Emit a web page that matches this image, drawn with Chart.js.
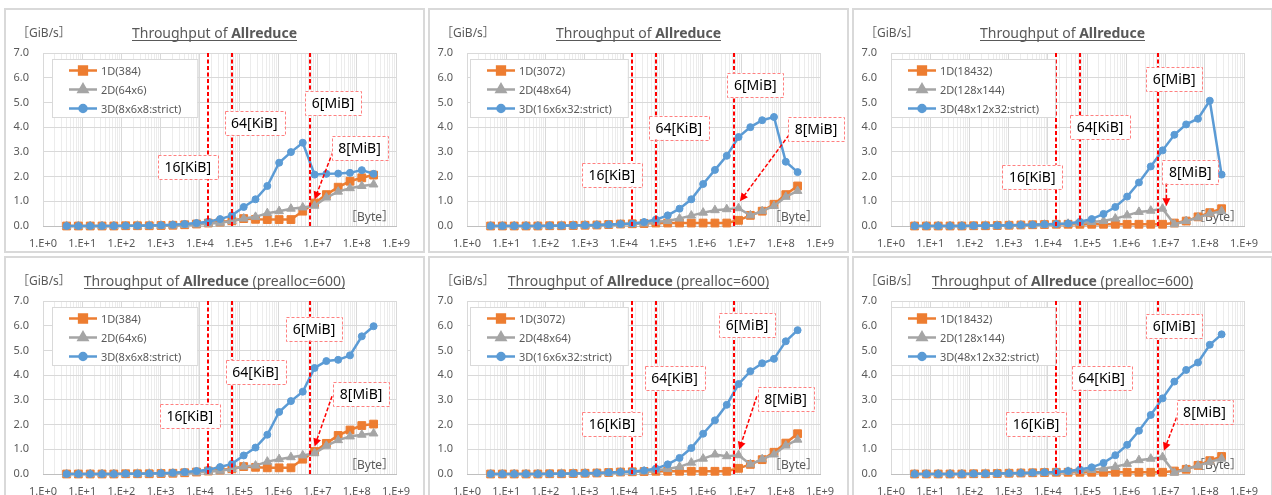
<!DOCTYPE html>
<html>
<head>
<meta charset="utf-8">
<script src="https://cdn.jsdelivr.net/npm/chart.js@4.4.1/dist/chart.umd.min.js"></script>
<style>
  body { margin: 0; background: #fff; width: 1272px; height: 495px; overflow: hidden; position: relative; }
  .panel { position: absolute; width: 417px; height: 241px; border: 2px solid #d9d9d9; background: #fff; }
  .panel canvas { display: block; }
</style>
</head>
<body>
<div class="panel" style="left:4px;top:8px"><canvas id="c0" width="417" height="241"></canvas></div>
<div class="panel" style="left:428px;top:8px"><canvas id="c1" width="417" height="241"></canvas></div>
<div class="panel" style="left:852px;top:8px"><canvas id="c2" width="417" height="241"></canvas></div>
<div class="panel" style="left:4px;top:256px"><canvas id="c3" width="417" height="241"></canvas></div>
<div class="panel" style="left:428px;top:256px"><canvas id="c4" width="417" height="241"></canvas></div>
<div class="panel" style="left:852px;top:256px"><canvas id="c5" width="417" height="241"></canvas></div>
<script>
// message sizes in bytes (2^2 .. 2^28)
const sizes = [4, 8, 16, 32, 64, 128, 256, 512, 1024, 2048, 4096, 8192, 16384, 32768, 65536,
  131072, 262144, 524288, 1048576, 2097152, 4194304, 8388608, 16777216, 33554432,
  67108864, 134217728, 268435456];
const xTickLabels = ['1.E+0', '1.E+1', '1.E+2', '1.E+3', '1.E+4', '1.E+5', '1.E+6', '1.E+7', '1.E+8', '1.E+9'];
const marks = [16384, 65536, 6291456];
const markLabels = ['16[KiB]', '64[KiB]', '6[MiB]'];
const arrowLabel = '8[MiB]';

const names384 = ['1D(384)', '2D(64x6)', '3D(8x6x8:strict)'];
const names3072 = ['1D(3072)', '2D(48x64)', '3D(16x6x32:strict)'];
const names18432 = ['1D(18432)', '2D(128x144)', '3D(48x12x32:strict)'];

// throughput GiB/s
const a384_1d = [0, 0, 0, 0, 0, 0.01, 0.01, 0.01, 0.02, 0.03, 0.05, 0.08, 0.12, 0.16, 0.21, 0.3, 0.27, 0.26, 0.26, 0.26, 0.6, 0.93, 1.27, 1.57, 1.81, 1.95, 2.06];
const a384_2d = [0, 0, 0, 0, 0, 0, 0.01, 0.01, 0.01, 0.02, 0.04, 0.06, 0.09, 0.13, 0.2, 0.3, 0.37, 0.52, 0.6, 0.7, 0.75, 0.82, 1.15, 1.39, 1.53, 1.62, 1.68];
const a384_3d = [0, 0, 0, 0, 0, 0.01, 0.01, 0.02, 0.03, 0.05, 0.08, 0.12, 0.17, 0.28, 0.43, 0.77, 1.08, 1.62, 2.56, 2.99, 3.37, 2.08, 2.11, 2.12, 2.15, 2.26, 2.11];

const a3072_1d = [0, 0, 0, 0, 0, 0.01, 0.01, 0.02, 0.03, 0.04, 0.06, 0.08, 0.09, 0.1, 0.12, 0.12, 0.12, 0.12, 0.12, 0.12, 0.12, 0.23, 0.43, 0.6, 0.88, 1.27, 1.62];
const a3072_2d = [0, 0, 0, 0, 0, 0, 0.01, 0.01, 0.02, 0.03, 0.04, 0.06, 0.08, 0.1, 0.17, 0.2, 0.3, 0.42, 0.54, 0.64, 0.68, 0.72, 0.43, 0.6, 0.81, 1.18, 1.42];
const a3072_3d = [0, 0, 0, 0, 0, 0.01, 0.01, 0.02, 0.03, 0.04, 0.06, 0.08, 0.1, 0.16, 0.26, 0.43, 0.7, 1.08, 1.7, 2.27, 2.84, 3.6, 4.0, 4.28, 4.41, 2.6, 2.18];

const a18432_1d = [0, 0, 0, 0, 0, 0.01, 0.01, 0.02, 0.03, 0.04, 0.05, 0.06, 0.07, 0.07, 0.07, 0.07, 0.07, 0.07, 0.07, 0.07, 0.07, 0.07, 0.12, 0.2, 0.37, 0.54, 0.7];
const a18432_2d = [0, 0, 0, 0, 0, 0, 0.01, 0.01, 0.02, 0.03, 0.04, 0.05, 0.07, 0.09, 0.12, 0.16, 0.2, 0.3, 0.43, 0.57, 0.62, 0.7, 0.07, 0.2, 0.34, 0.5, 0.6];
const a18432_3d = [0, 0, 0, 0, 0, 0.01, 0.01, 0.02, 0.03, 0.04, 0.05, 0.07, 0.08, 0.1, 0.17, 0.28, 0.49, 0.77, 1.19, 1.76, 2.41, 3.06, 3.69, 4.11, 4.34, 5.07, 2.08];

// prealloc=600
const b384_1d = [0, 0, 0, 0, 0, 0.01, 0.01, 0.01, 0.02, 0.03, 0.05, 0.08, 0.12, 0.16, 0.21, 0.3, 0.27, 0.25, 0.25, 0.25, 0.6, 0.91, 1.24, 1.56, 1.78, 1.96, 2.02];
const b384_2d = [0, 0, 0, 0, 0, 0, 0.01, 0.01, 0.01, 0.02, 0.04, 0.06, 0.09, 0.13, 0.2, 0.3, 0.34, 0.5, 0.6, 0.68, 0.75, 0.84, 1.14, 1.37, 1.52, 1.59, 1.64];
const b384_3d = [0, 0, 0, 0, 0, 0.01, 0.01, 0.02, 0.03, 0.05, 0.08, 0.12, 0.17, 0.28, 0.41, 0.75, 1.07, 1.59, 2.51, 2.95, 3.33, 4.29, 4.57, 4.62, 4.8, 5.57, 5.98];

const b3072_1d = [0, 0, 0, 0, 0, 0.01, 0.01, 0.02, 0.03, 0.04, 0.06, 0.08, 0.09, 0.1, 0.11, 0.11, 0.11, 0.11, 0.11, 0.11, 0.11, 0.23, 0.39, 0.58, 0.88, 1.25, 1.63];
const b3072_2d = [0, 0, 0, 0, 0, 0, 0.01, 0.01, 0.02, 0.03, 0.04, 0.06, 0.08, 0.1, 0.15, 0.2, 0.29, 0.46, 0.62, 0.79, 0.72, 0.76, 0.39, 0.6, 0.79, 1.15, 1.39];
const b3072_3d = [0, 0, 0, 0, 0, 0.01, 0.01, 0.02, 0.03, 0.04, 0.06, 0.08, 0.1, 0.14, 0.22, 0.39, 0.65, 1.05, 1.63, 2.17, 2.8, 3.64, 4.16, 4.48, 4.66, 5.37, 5.82];

const b18432_1d = [0, 0, 0, 0, 0, 0.01, 0.01, 0.02, 0.03, 0.04, 0.05, 0.06, 0.07, 0.07, 0.07, 0.07, 0.07, 0.07, 0.07, 0.07, 0.07, 0.07, 0.12, 0.19, 0.35, 0.54, 0.71];
const b18432_2d = [0, 0, 0, 0, 0, 0, 0.01, 0.01, 0.02, 0.03, 0.04, 0.05, 0.07, 0.09, 0.12, 0.16, 0.22, 0.29, 0.41, 0.56, 0.62, 0.68, 0.05, 0.2, 0.34, 0.49, 0.62];
const b18432_3d = [0, 0, 0, 0, 0, 0.01, 0.01, 0.02, 0.03, 0.04, 0.05, 0.07, 0.08, 0.12, 0.18, 0.27, 0.45, 0.76, 1.18, 1.75, 2.39, 3.06, 3.74, 4.21, 4.51, 5.23, 5.65];

const colors = ['#ED7D31', '#A5A5A5', '#5B9BD5'];
const markers = [['rect', 5.5], ['triangle', 5], ['circle', 3.5]];

// label box centres and arrow (tail, head) in data units, per panel
const panels = [
  { suffix: '', names: names384, data: [a384_1d, a384_2d, a384_3d],
    notes: [[4900, 2.38], [245000, 4.17], [2.5e7, 4.97], [1.17e8, 3.15]], arrow: [[2.45e7, 3.0], [8.4e6, 1.07]] },
  { suffix: '', names: names3072, data: [a3072_1d, a3072_2d, a3072_3d],
    notes: [[4900, 2.07], [251000, 3.98], [2.24e7, 5.7], [7.9e8, 3.94]], arrow: [[2.0e8, 3.88], [9.1e6, 1.0]] },
  { suffix: '', names: names18432, data: [a18432_1d, a18432_2d, a18432_3d],
    notes: [[3980, 2.0], [214000, 3.99], [1.66e7, 5.94], [4.27e7, 2.2]], arrow: [[1.05e7, 1.75], [1.05e7, 0.8]] },
  { suffix: ' (prealloc=600)', names: names384, data: [b384_1d, b384_2d, b384_3d],
    notes: [[5500, 2.35], [263000, 4.13], [8.1e6, 5.88], [1.29e8, 3.22]], arrow: [[2.34e7, 3.15], [8.4e6, 1.11]] },
  { suffix: ' (prealloc=600)', names: names3072, data: [b3072_1d, b3072_2d, b3072_3d],
    notes: [[5000, 2.04], [195000, 3.87], [1.38e7, 6.02], [1.32e8, 3.02]], arrow: [[2.45e7, 3.15], [8.7e6, 0.98]] },
  { suffix: ' (prealloc=600)', names: names18432, data: [b18432_1d, b18432_2d, b18432_3d],
    notes: [[5000, 2.04], [234000, 3.9], [1.66e7, 5.98], [9.8e7, 2.5]], arrow: [[2.45e7, 2.74], [9.1e6, 0.94]] }
];

const FONT = "'Noto Sans', 'Noto Sans CJK JP', sans-serif";
Chart.defaults.font.family = FONT;
Chart.defaults.color = '#595959';

function isPow10(v) {
  const l = Math.log10(v);
  return Math.abs(l - Math.round(l)) < 1e-9;
}

function noteBox(ctx, text, cx, cy) {
  ctx.font = '14px ' + FONT;
  const w = ctx.measureText(text).width + 13, h = 24;
  ctx.save();
  ctx.fillStyle = '#fff';
  ctx.fillRect(cx - w / 2, cy - h / 2, w, h);
  ctx.setLineDash([3, 2]);
  ctx.strokeStyle = '#FF8080';
  ctx.lineWidth = 1;
  ctx.strokeRect(Math.round(cx - w / 2) + 0.5, Math.round(cy - h / 2) + 0.5, Math.round(w), h);
  ctx.fillStyle = '#000';
  ctx.textAlign = 'center';
  ctx.textBaseline = 'middle';
  ctx.fillText(text, cx, cy + 1);
  ctx.restore();
}

const overlay = {
  id: 'overlay',
  beforeDatasetsDraw(chart) {
    const { ctx, chartArea: a } = chart;
    ctx.save();
    ctx.font = '12px ' + FONT;
    ctx.fillStyle = '#595959';
    ctx.textAlign = 'right';
    ctx.textBaseline = 'middle';
    ctx.fillText('［Byte］', a.right - 2, a.bottom - 8);
    ctx.restore();
  },
  afterDatasetsDraw(chart, args, opts) {
    const { ctx, chartArea: a, scales: { x, y } } = chart;
    const p = opts.panel;
    ctx.save();
    // red dashed markers
    ctx.strokeStyle = '#FF0000';
    ctx.lineWidth = 2;
    ctx.setLineDash([4, 2.5]);
    marks.forEach(m => {
      const px = Math.round(x.getPixelForValue(m));
      ctx.beginPath();
      ctx.moveTo(px, a.top);
      ctx.lineTo(px, a.bottom);
      ctx.stroke();
    });
    // arrow to 8MiB
    const tx = x.getPixelForValue(p.arrow[0][0]), ty = y.getPixelForValue(p.arrow[0][1]);
    const hx = x.getPixelForValue(p.arrow[1][0]), hy = y.getPixelForValue(p.arrow[1][1]);
    const ang = Math.atan2(hy - ty, hx - tx);
    ctx.lineWidth = 1.5;
    ctx.setLineDash([4, 2]);
    ctx.beginPath();
    ctx.moveTo(tx, ty);
    ctx.lineTo(hx - 6 * Math.cos(ang), hy - 6 * Math.sin(ang));
    ctx.stroke();
    ctx.setLineDash([]);
    ctx.fillStyle = '#FF0000';
    ctx.beginPath();
    ctx.moveTo(hx, hy);
    ctx.lineTo(hx - 8 * Math.cos(ang) + 4 * Math.sin(ang), hy - 8 * Math.sin(ang) - 4 * Math.cos(ang));
    ctx.lineTo(hx - 8 * Math.cos(ang) - 4 * Math.sin(ang), hy - 8 * Math.sin(ang) + 4 * Math.cos(ang));
    ctx.closePath();
    ctx.fill();
    ctx.restore();

    const texts = markLabels.concat([arrowLabel]);
    p.notes.forEach((n, i) => noteBox(ctx, texts[i], x.getPixelForValue(n[0]), y.getPixelForValue(n[1])));

    // legend
    ctx.save();
    ctx.font = '11px ' + FONT;
    const tw = Math.max(...p.names.map(s => ctx.measureText(s).width));
    const lw = 17 + 28 + 4 + tw + 16, lh = 58;
    const lx = Math.round(a.left + 82 - lw / 2), ly = 49.5;
    ctx.fillStyle = '#fff';
    ctx.fillRect(lx, ly, lw, lh);
    ctx.strokeStyle = '#d9d9d9';
    ctx.lineWidth = 1;
    ctx.strokeRect(lx + 0.5, ly, lw, lh);
    p.names.forEach((s, i) => {
      const ry = ly + 11 + i * 19;
      const sx = lx + 17;
      ctx.strokeStyle = colors[i];
      ctx.lineWidth = 2.5;
      ctx.beginPath();
      ctx.moveTo(sx, ry);
      ctx.lineTo(sx + 28, ry);
      ctx.stroke();
      ctx.fillStyle = colors[i];
      Chart.helpers.drawPoint(ctx, { pointStyle: markers[i][0], radius: markers[i][1], rotation: 0, borderWidth: 1 }, sx + 14, ry);
      ctx.fillStyle = '#595959';
      ctx.textAlign = 'left';
      ctx.textBaseline = 'middle';
      ctx.fillText(s, sx + 32, ry + 1);
    });
    ctx.restore();

    // title and unit
    ctx.save();
    ctx.fillStyle = '#595959';
    ctx.textBaseline = 'alphabetic';
    ctx.textAlign = 'left';
    const f1 = '14px ' + FONT, f2 = 'bold 14px ' + FONT;
    ctx.font = f1;
    const w1 = ctx.measureText('Throughput of ').width;
    const w3 = ctx.measureText(p.suffix).width;
    ctx.font = f2;
    const w2 = ctx.measureText('Allreduce').width;
    const total = w1 + w2 + w3;
    let sx = chart.width / 2 - total / 2;
    const by = 28;
    ctx.font = f1; ctx.fillText('Throughput of ', sx, by);
    ctx.font = f2; ctx.fillText('Allreduce', sx + w1, by);
    ctx.font = f1; ctx.fillText(p.suffix, sx + w1 + w2, by);
    ctx.fillRect(Math.round(sx), by + 2, Math.round(total), 1);
    ctx.font = '12px ' + FONT;
    ctx.fillText('［GiB/s］', 11, 27);
    ctx.restore();
  }
};

panels.forEach((p, k) => {
  new Chart(document.getElementById('c' + k), {
    type: 'line',
    data: {
      datasets: p.data.map((vals, i) => ({
        label: p.names[i],
        data: sizes.map((s, j) => ({ x: s, y: vals[j] })),
        borderColor: colors[i],
        backgroundColor: colors[i],
        borderWidth: 2.5,
        pointStyle: markers[i][0],
        pointRadius: markers[i][1],
        pointBorderWidth: 1,
        pointHoverRadius: markers[i][1],
        tension: 0,
        clip: false,
        order: 3 - i
      }))
    },
    options: {
      responsive: false,
      animation: false,
      devicePixelRatio: 1,
      layout: { padding: { top: 43, right: 27, left: 0, bottom: 0 } },
      plugins: { legend: { display: false }, tooltip: { enabled: false }, overlay: { panel: p } },
      scales: {
        x: {
          type: 'logarithmic',
          min: 1,
          max: 1e9,
          afterBuildTicks: scale => {
            const t = [];
            for (let e = 0; e < 9; e++) for (let m = 1; m <= 9; m++) t.push({ value: m * Math.pow(10, e) });
            t.push({ value: 1e9 });
            scale.ticks = t;
          },
          afterFit: scale => { scale.height = 25; },
          ticks: {
            autoSkip: false,
            maxRotation: 0,
            padding: 11,
            font: { size: 11 },
            color: '#595959',
            callback: v => isPow10(v) ? xTickLabels[Math.round(Math.log10(v))] : ''
          },
          grid: {
            drawTicks: false,
            color: c => (c.tick && isPow10(c.tick.value)) ? '#d9d9d9' : '#ececec'
          },
          border: { color: '#bfbfbf', width: 1 }
        },
        y: {
          min: 0,
          max: 7,
          afterFit: scale => { scale.width = 37; },
          ticks: { stepSize: 1, padding: 14, font: { size: 11 }, color: '#595959', callback: v => v.toFixed(1) },
          grid: { drawTicks: false, color: '#d9d9d9' },
          border: { display: false }
        }
      }
    },
    plugins: [overlay]
  });
});
</script>
</body>
</html>
